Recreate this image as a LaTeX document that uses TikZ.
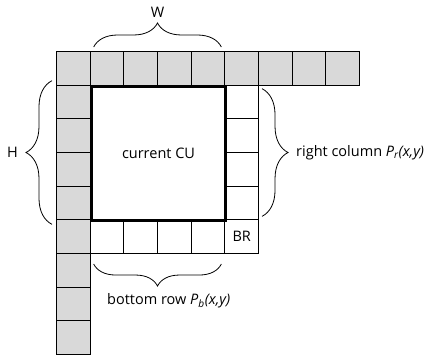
\documentclass[tikz,border=0pt]{standalone}
\usepackage{fontspec}
\setmainfont{Open Sans}
\usetikzlibrary{decorations.pathreplacing,calc}
\begin{document}
\begin{tikzpicture}[x=1pt,y=-1pt,
  gcell/.style={draw=black,line width=1pt,fill=gray!30,minimum size=33.67pt,inner sep=0pt,anchor=north west},
  wcell/.style={draw=black,line width=1pt,fill=white,minimum size=33.67pt,inner sep=0pt,anchor=north west},
  cubox/.style={draw=black,line width=3pt,minimum size=134.68pt,inner sep=0pt,anchor=north west},
  brc/.style={decorate,decoration={brace,amplitude=#1},line width=0.8pt},
  brc/.default=24pt,
  lbl/.style={font=\fontsize{14.5}{17}\selectfont,inner sep=0pt}]
\useasboundingbox (0,0) rectangle (427,356);
% top row
\foreach \i in {0,...,8} {
  \node[gcell] (t\i) at ({56+33.67*\i},51) {};
}
% left column
\foreach \j in {1,...,8} {
  \node[gcell] (l\j) at (56,{51+33.67*\j}) {};
}
% right column
\foreach \j in {1,...,4} {
  \node[wcell] (r\j) at (224.35,{51+33.67*\j}) {};
}
% bottom row
\foreach \i in {1,...,4} {
  \node[wcell] (b\i) at ({56+33.67*\i},219.35) {};
}
\node[wcell] (br) at (224.35,219.35) {};
\node[lbl] (brt) at (br.center) {BR};
% current CU
\node[cubox] (cu) at (89.67,84.67) {};
\node[lbl] (cut) at (cu.center) {current CU};
% braces
\coordinate (wa) at ([xshift=4pt,yshift=4pt]t1.north west);
\coordinate (wb) at ([xshift=-4pt,yshift=4pt]t4.north east);
\draw[brc=24pt] (wa) -- (wb);
\node[lbl] (W) at ($(wa)!0.5!(wb)+(0,-35)$) {W};
\coordinate (ha) at ([xshift=-4pt,yshift=-4pt]l4.south west);
\coordinate (hb) at ([xshift=-4pt,yshift=4pt]l1.north west);
\draw[brc=26pt] (ha) -- (hb);
\node[lbl,anchor=east] (H) at ($(ha)!0.5!(hb)+(-34,0)$) {H};
\coordinate (ra) at ([xshift=3pt,yshift=-4pt]r1.north east);
\coordinate (rb) at ([xshift=3pt,yshift=4pt]r4.south east);
\draw[brc=26pt] (ra) -- (rb);
\node[lbl,anchor=west] (rc) at ($(ra)!0.5!(rb)+(34,0)$) {right column \textit{P\textsubscript{r}(x,y)}};
\coordinate (ba) at ([xshift=-4pt,yshift=-10pt]b4.south east);
\coordinate (bb) at ([xshift=4pt,yshift=-10pt]b1.south west);
\draw[brc=22pt] (ba) -- (bb);
\node[lbl,anchor=west] (bt) at (107,301) {bottom row \textit{P\textsubscript{b}(x,y)}};
\end{tikzpicture}
\end{document}
